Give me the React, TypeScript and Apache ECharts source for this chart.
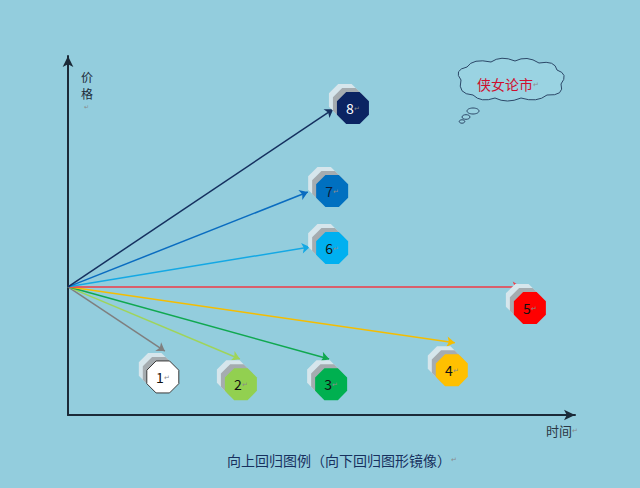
import { useEffect, useRef } from 'react';
import * as echarts from 'echarts';

// 8 regression paths, all starting at the same point on the price axis
const labels = ['1', '2', '3', '4', '5', '6', '7', '8'];
const originX = 0;
const originY = 35.7;
const tipX = [19.1, 33.9, 51.5, 76.3, 89.3, 47.7, 47.3, 52.3];
const tipY = [17.8, 15.6, 15.6, 20.1, 35.7, 46.8, 62.1, 85.2];
const boxX = [18.7, 34.1, 51.9, 75.7, 91.1, 52.1, 52.1, 56.2];
const boxY = [10.6, 8.6, 8.6, 12.5, 29.8, 46.5, 62.4, 85.5];
const lineColors = ['#7f7f7f', '#9fd45a', '#10a850', '#f5bd00', '#f03a46', '#14a8e4', '#0a6cc0', '#15305f'];
const boxColors = ['#ffffff', '#92d050', '#00b050', '#ffc000', '#ff0000', '#00b0f0', '#0070c0', '#0b2462'];
const textColors = ['#111', '#111', '#111', '#111', '#111', '#111', '#0d1d3a', '#ffffff'];

const xName = '时间';
const yName = ['价', '格'];
const caption = '向上回归图例（向下回归图形镜像）';
const cloudText = '侠女论市';

const BG = '#93cddd';
const OCT = 'path://M29,0L71,0L100,29L100,71L71,100L29,100L0,71L0,29Z';
const CJK = '"Noto Sans CJK SC", "Noto Sans", sans-serif';

const CLOUD_D =
  'M6,22 Q-2,12 12,9 Q18,0 36,4 Q46,-3 60,3 Q72,-3 84,5 Q100,2 102,12 ' +
  'Q114,16 106,26 Q110,38 92,37 Q82,45 66,40 Q52,46 40,40 Q26,45 18,37 Q2,36 6,22 Z';

echarts.graphic.registerShape('cloud', echarts.graphic.extendPath(CLOUD_D, {}) as any);

export default function App() {
  const ref = useRef<HTMLDivElement>(null);

  useEffect(() => {
    document.body.style.margin = '0';
    if (!ref.current) return;
    const chart = echarts.init(ref.current, null, { renderer: 'svg' });

    const axisCommon = {
      type: 'value' as const,
      min: 0,
      max: 100,
      axisLine: {
        show: true,
        symbol: ['none', 'arrow'],
        symbolSize: [8, 11],
        lineStyle: { color: '#1b2a38', width: 2 },
      },
      axisTick: { show: false },
      axisLabel: { show: false },
      splitLine: { show: false },
    };

    const boxData = labels.map((l, i) => ({
      name: l,
      value: [boxX[i], boxY[i]],
      itemStyle: {
        color: boxColors[i],
        borderColor: i === 0 ? '#3a3a3a' : boxColors[i],
        borderWidth: i === 0 ? 1 : 0,
        opacity: 1,
      },
      label: { rich: { n: { color: textColors[i], fontSize: 14 }, p: { color: '#8a8a8a', fontSize: 7 } } },
    }));
    const shadowData = labels.map((l, i) => ({ name: l, value: [boxX[i], boxY[i]] }));
    const bubble = { fill: '#9ad3e2', stroke: '#2c4868', lineWidth: 1 };

    chart.setOption({
      animation: false,
      backgroundColor: BG,
      grid: { left: 68, right: 65, top: 56, bottom: 73 },
      xAxis: axisCommon,
      yAxis: axisCommon,
      series: [
        {
          type: 'lines',
          coordinateSystem: 'cartesian2d',
          symbol: ['none', 'arrow'],
          symbolSize: 8,
          z: 1,
          lineStyle: { width: 1.5, opacity: 1, type: 'solid' },
          data: labels.map((l, i) => ({
            coords: [
              [originX, originY],
              [tipX[i], tipY[i]],
            ],
            lineStyle: { color: lineColors[i] },
          })),
        },
        {
          type: 'scatter',
          symbol: OCT,
          symbolSize: 32,
          symbolOffset: [-8, -8],
          z: 2,
          itemStyle: { color: '#d6e6ec', opacity: 1 },
          data: shadowData,
        },
        {
          type: 'scatter',
          symbol: OCT,
          symbolSize: 32,
          symbolOffset: [-4, -4],
          z: 3,
          itemStyle: { color: '#a5acb0', opacity: 1 },
          data: shadowData,
        },
        {
          type: 'scatter',
          symbol: OCT,
          symbolSize: 32,
          z: 4,
          label: {
            show: true,
            position: 'inside',
            fontFamily: CJK,
            formatter: (p: any) => `{n|${p.name}}{p|↵}`,
          },
          data: boxData,
        },
      ],
      graphic: [
        { type: 'cloud', x: 455, y: 58, style: bubble },
        { type: 'ellipse', shape: { cx: 473, cy: 111, rx: 6, ry: 3 }, style: bubble },
        { type: 'ellipse', shape: { cx: 466, cy: 117, rx: 4, ry: 2.3 }, style: bubble },
        { type: 'ellipse', shape: { cx: 462, cy: 121.5, rx: 2.8, ry: 1.7 }, style: bubble },
        {
          type: 'text',
          x: 508,
          y: 84,
          style: {
            text: `{t|${cloudText}}{p|↵}`,
            align: 'center',
            verticalAlign: 'middle',
            rich: {
              t: { fill: '#cf0f2e', fontSize: 14, fontFamily: CJK },
              p: { fill: '#8a8a8a', fontSize: 7 },
            },
          },
        },
        {
          type: 'text',
          x: 87,
          y: 76,
          style: { text: yName[0], align: 'center', verticalAlign: 'middle', fill: '#1e2c3a', font: `12px ${CJK}` },
        },
        {
          type: 'text',
          x: 87,
          y: 93,
          style: { text: yName[1], align: 'center', verticalAlign: 'middle', fill: '#1e2c3a', font: `12px ${CJK}` },
        },
        {
          type: 'text',
          x: 86,
          y: 106,
          style: { text: '↵', align: 'center', verticalAlign: 'middle', fill: '#8a8a8a', font: `6px ${CJK}` },
        },
        {
          type: 'text',
          left: 546,
          top: 424,
          style: {
            text: `{t|${xName}}{p|↵}`,
            rich: {
              t: { fill: '#2a3644', fontSize: 13, fontFamily: CJK },
              p: { fill: '#8a8a8a', fontSize: 7 },
            },
          },
        },
        {
          type: 'text',
          left: 227,
          top: 453,
          style: {
            text: `{t|${caption}}{p|↵}`,
            rich: {
              t: { fill: '#17305e', fontSize: 14, fontFamily: CJK },
              p: { fill: '#8a8a8a', fontSize: 7 },
            },
          },
        },
      ],
    });

    return () => chart.dispose();
  }, []);

  return <div ref={ref} style={{ width: 640, height: 488, background: BG }} />;
}
